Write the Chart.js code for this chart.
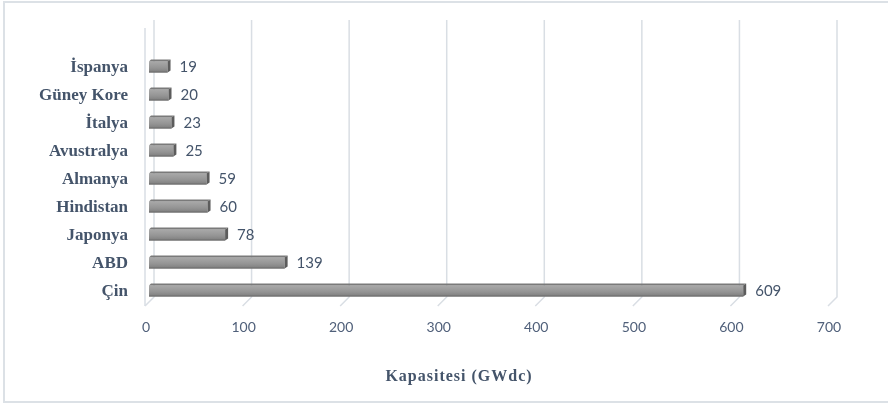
<!DOCTYPE html>
<html>
<head>
<meta charset="utf-8">
<script src="https://cdn.jsdelivr.net/npm/chart.js@4.4.1/dist/chart.umd.min.js"></script>
<style>
    html, body { margin: 0; padding: 0; background: #fff; }
    #wrap { position: relative; width: 888px; height: 404px; overflow: hidden; }
    #frame { position: absolute; left: 3px; top: 1px; width: 900px; height: 402px; border: 2px solid #dce1e6; box-sizing: border-box; }
    #myChart { position: absolute; left: 0; top: 0; }
</style>
</head>
<body>
<div id="wrap">
    <div id="frame"></div>
    <canvas id="myChart" width="888" height="404"></canvas>
</div>
<script>
// data
const countries = ['İspanya', 'Güney Kore', 'İtalya', 'Avustralya', 'Almanya', 'Hindistan', 'Japonya', 'ABD', 'Çin'];
const capacity = [19, 20, 23, 25, 59, 60, 78, 139, 609];
const xTicks = [0, 100, 200, 300, 400, 500, 600, 700];
const axisTitle = 'Kapasitesi (GWdc)';

const textColor = '#44546a';
const gridColor = '#d9dee4';
const depth = 3; // bars sit a bit back from the front floor edge

// back wall gridlines with the little 3D floor step
const wallPlugin = {
    id: 'wall',
    beforeDatasetsDraw(chart) {
        const ctx = chart.ctx, a = chart.chartArea, sx = chart.scales.x;
        ctx.save();
        ctx.strokeStyle = gridColor;
        ctx.lineWidth = 1.5;
        xTicks.forEach(v => {
            const px = sx.getPixelForValue(v);
            ctx.beginPath();
            ctx.moveTo(px + 8, a.top - 32);
            ctx.lineTo(px + 8, a.bottom - 7);
            ctx.lineTo(px - 1, a.bottom + 2);
            ctx.stroke();
        });
        // front edge of the side wall
        const p0 = sx.getPixelForValue(0);
        ctx.beginPath();
        ctx.moveTo(p0 - 1, a.top - 24);
        ctx.lineTo(p0 - 1, a.bottom + 2);
        ctx.stroke();
        ctx.restore();
    }
};

// fake 3D look on the bars + value labels
const barPlugin = {
    id: 'bar3d',
    afterDatasetsDraw(chart) {
        const ctx = chart.ctx;
        const meta = chart.getDatasetMeta(0);
        ctx.save();
        meta.data.forEach((bar, i) => {
            const top = bar.y - bar.height / 2, bottom = bar.y + bar.height / 2;
            const x0 = bar.base + depth, x1 = bar.x + depth;
            // front face
            const g = ctx.createLinearGradient(0, top + 2, 0, bottom);
            g.addColorStop(0, '#a9a9a9');
            g.addColorStop(0.6, '#939393');
            g.addColorStop(1, '#7c7c7c');
            ctx.fillStyle = g;
            ctx.fillRect(x0, top + 2, x1 - x0, bottom - top - 2);
            ctx.fillStyle = '#6f6f6f';
            ctx.fillRect(x0, bottom - 1, x1 - x0, 1);
            // top face
            ctx.fillStyle = '#7a7a7a';
            ctx.beginPath();
            ctx.moveTo(x0 + 2, top);
            ctx.lineTo(x1 + 3, top);
            ctx.lineTo(x1, top + 2);
            ctx.lineTo(x0, top + 2);
            ctx.closePath();
            ctx.fill();
            // end cap
            ctx.fillStyle = '#5c5c5c';
            ctx.beginPath();
            ctx.moveTo(x1, top + 2);
            ctx.lineTo(x1 + 3, top);
            ctx.lineTo(x1 + 3, bottom - 2);
            ctx.lineTo(x1, bottom);
            ctx.closePath();
            ctx.fill();
            // value
            ctx.fillStyle = textColor;
            ctx.font = '15px Lato';
            ctx.textAlign = 'left';
            ctx.textBaseline = 'middle';
            ctx.fillText(capacity[i], x1 + 12, bar.y + 1);
        });
        // axis title
        const a = chart.chartArea;
        ctx.font = 'bold 16px "Liberation Serif"';
        ctx.letterSpacing = '1px';
        ctx.textAlign = 'center';
        ctx.fillText(axisTitle, a.left + 313, 377);
        ctx.restore();
    }
};

const ctx = document.getElementById('myChart');

new Chart(ctx, {
    type: 'bar',
    data: {
        labels: countries,
        datasets: [{
            data: capacity,
            backgroundColor: 'rgba(0,0,0,0)',
            barThickness: 13
        }]
    },
    options: {
        indexAxis: 'y',
        responsive: false,
        animation: false,
        layout: { padding: { top: 52, right: 59, left: 0, bottom: 0 } },
        plugins: {
            legend: { display: false },
            tooltip: { enabled: false }
        },
        scales: {
            x: {
                min: 0,
                max: 700,
                afterBuildTicks: s => { s.ticks = xTicks.map(v => ({ value: v })); },
                afterFit: s => { s.height = 100; },
                grid: { display: false, drawTicks: false },
                border: { display: false },
                ticks: { color: '#50607a', padding: 15, font: { family: 'Lato', size: 14 } }
            },
            y: {
                afterFit: s => { s.width = 146; },
                grid: { display: false, drawTicks: false },
                border: { display: false },
                ticks: { color: textColor, padding: 18, labelOffset: 2, font: { family: 'Liberation Serif', size: 17, weight: 'bold' } }
            }
        }
    },
    plugins: [wallPlugin, barPlugin]
});
</script>
</body>
</html>
